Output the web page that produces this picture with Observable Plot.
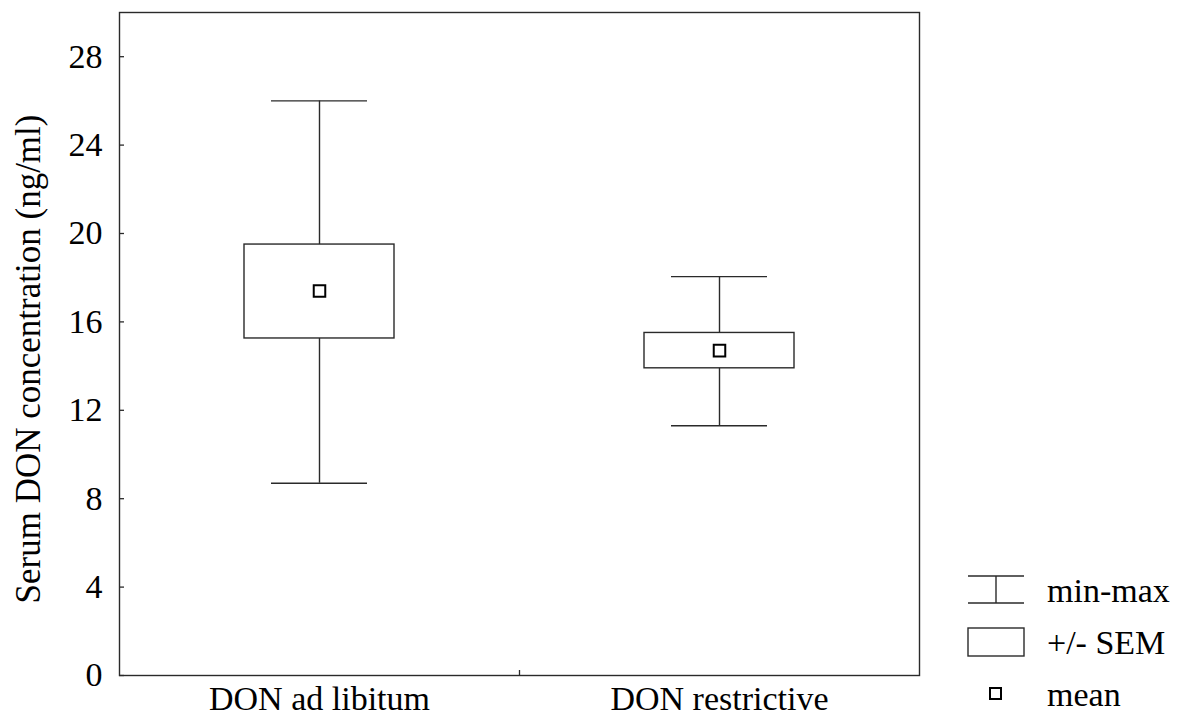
<!DOCTYPE html>
<html>
<head>
<meta charset="utf-8">
<script src="https://cdn.jsdelivr.net/npm/d3@7"></script>
<script src="https://cdn.jsdelivr.net/npm/@observablehq/plot@0.6"></script>
<style>
  body { margin: 0; background: #fff; }
  #wrap { position: relative; width: 1177px; height: 724px; font-family: "Liberation Serif", "Times New Roman", serif; }
  #legend { position: absolute; left: 0; top: 0; pointer-events: none; }
</style>
</head>
<body>
<div id="wrap"></div>
<script>
// Serum DON concentration by feeding regime
const categories = ["DON ad libitum", "DON restrictive"];
const minValues  = [8.7, 11.3];
const maxValues  = [26.0, 18.05];
const semLow     = [15.25, 13.9];
const semHigh    = [19.5, 15.5];
const means      = [17.4, 14.7];
const yTicks     = [0, 4, 8, 12, 16, 20, 24, 28];
const yLabel     = "Serum DON concentration (ng/ml)";
const legendLabels = ["min-max", "+/- SEM", "mean"];

const rows = categories.map((c, i) => ({
  group: c, min: minValues[i], max: maxValues[i], lo: semLow[i], hi: semHigh[i], mean: means[i]
}));

const W = 1177, H = 724;
const M = {left: 119, right: 258, top: 12, bottom: 49};
const plotW = W - M.left - M.right;
const plotH = H - M.top - M.bottom;
const bandW = plotW / categories.length;
const ink = "#2a2a2a";
const font = "Liberation Serif, Times New Roman, serif";

const chart = Plot.plot({
  width: W,
  height: H,
  marginLeft: M.left,
  marginRight: M.right,
  marginTop: M.top,
  marginBottom: M.bottom,
  style: {fontFamily: font, fontSize: "34px", color: "#000", background: "#fff"},
  x: {type: "band", domain: categories, paddingInner: 0, paddingOuter: 0, label: null},
  y: {domain: [0, 30], label: null},
  marks: [
    // whiskers (min to max)
    Plot.ruleX(rows, {x: "group", y1: "min", y2: "max", stroke: ink, strokeWidth: 1.4}),
    Plot.tickY(rows, {x: "group", y: "min", stroke: ink, strokeWidth: 1.4, insetLeft: 152, insetRight: 152}),
    Plot.tickY(rows, {x: "group", y: "max", stroke: ink, strokeWidth: 1.4, insetLeft: 152, insetRight: 152}),
    // ± SEM boxes
    Plot.barY(rows, {x: "group", y1: "lo", y2: "hi", fill: "#fff", stroke: ink, strokeWidth: 1.4, insetLeft: 125, insetRight: 125}),
    // means
    Plot.dot(rows, {x: "group", y: "mean", symbol: "square", r: 6.5, stroke: "#000", strokeWidth: 2, fill: "none"}),
    // inward ticks on the y axis
    Plot.ruleY(yTicks, {stroke: ink, strokeWidth: 1.3, insetRight: plotW - 5}),
    // inward tick between the groups
    Plot.ruleX(categories.slice(1), {dx: -bandW / 2, insetTop: plotH - 5, stroke: ink, strokeWidth: 1.3}),
    Plot.axisY({ticks: yTicks, tickSize: 0, tickPadding: 17, fontSize: 34, label: null}),
    Plot.axisX({tickSize: 0, tickPadding: 10, fontSize: 34, label: null}),
    Plot.text([yLabel], {frameAnchor: "left", textAnchor: "middle", rotate: -90, dx: -91, dy: 15, fontSize: 35, fill: "#000"}),
    Plot.frame({stroke: ink, strokeWidth: 1.4})
  ]
});

const wrap = document.getElementById("wrap");
wrap.appendChild(chart);

// Legend drawn beside the plot area
const leg = d3.select(wrap).append("svg")
  .attr("id", "legend")
  .attr("width", W).attr("height", H)
  .style("font-family", font).style("font-size", "34px");

const lx = 968, lw = 56, tx = 1047;
const rowsY = [590, 642, 694];

// min-max symbol
leg.append("line").attr("x1", lx).attr("x2", lx + lw).attr("y1", rowsY[0] - 14).attr("y2", rowsY[0] - 14).attr("stroke", ink).attr("stroke-width", 1.4);
leg.append("line").attr("x1", lx).attr("x2", lx + lw).attr("y1", rowsY[0] + 13).attr("y2", rowsY[0] + 13).attr("stroke", ink).attr("stroke-width", 1.4);
leg.append("line").attr("x1", lx + lw / 2).attr("x2", lx + lw / 2).attr("y1", rowsY[0] - 14).attr("y2", rowsY[0] + 13).attr("stroke", ink).attr("stroke-width", 1.4);
// SEM box symbol
leg.append("rect").attr("x", lx).attr("y", rowsY[1] - 14).attr("width", lw).attr("height", 28).attr("fill", "#fff").attr("stroke", ink).attr("stroke-width", 1.4);
// mean symbol
leg.append("rect").attr("x", lx + lw / 2 - 6).attr("y", rowsY[2] - 6).attr("width", 11).attr("height", 11).attr("fill", "none").attr("stroke", "#000").attr("stroke-width", 2);

leg.selectAll("text.lab").data(legendLabels).join("text")
  .attr("class", "lab")
  .attr("x", tx)
  .attr("y", (d, i) => rowsY[i] + 12)
  .attr("fill", "#000")
  .text(d => d);
</script>
</body>
</html>
